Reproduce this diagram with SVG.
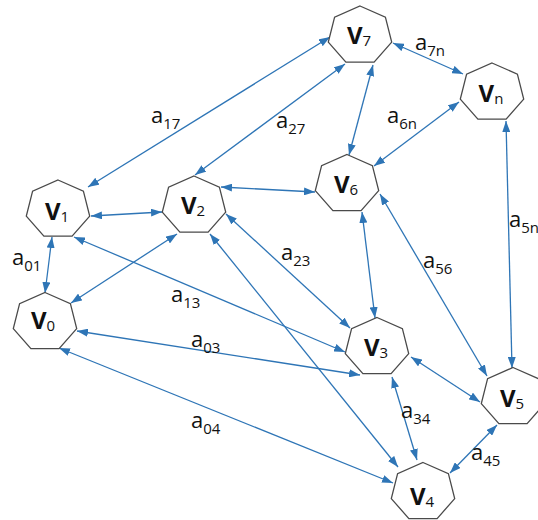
<svg xmlns="http://www.w3.org/2000/svg" xmlns:xlink="http://www.w3.org/1999/xlink" width="538" height="520" viewBox="0 0 538 520">
<style>
.hept{fill:#ffffff;stroke:#4a4a4a;stroke-width:1.3}
.edge line{stroke:#2E75B6;stroke-width:1.3;fill:none;marker-start:url(#ah);marker-end:url(#ah)}
.nl{font-family:"Open Sans","Liberation Sans",sans-serif;font-weight:bold;font-size:24px;fill:#111;text-anchor:middle}
.ns{font-size:15px;font-weight:normal}
.el{font-family:"Open Sans","Liberation Sans",sans-serif;font-size:22px;fill:#111}
.es{font-size:15px}
</style>
<defs>
<marker id="ah" markerUnits="userSpaceOnUse" markerWidth="11" markerHeight="8" refX="11" refY="4" orient="auto-start-reverse" viewBox="0 0 11 8">
<path d="M0,0 L11,4 L0,8 z" fill="#2E75B6"/>
</marker>
<polygon id="hp" class="hept" points="0,-29.5 25.4,-18.4 31.7,6.6 14.1,26.6 -14.1,26.6 -31.7,6.6 -25.4,-18.4"/>
</defs>
<rect width="538" height="520" fill="#ffffff"/>
<g id="connectors" class="edge">
<line x1="88" y1="187" x2="330" y2="37"/>
<line x1="195" y1="175" x2="345" y2="64"/>
<line x1="373" y1="65" x2="349" y2="155"/>
<line x1="393" y1="43" x2="463" y2="74"/>
<line x1="459" y1="102" x2="374" y2="166"/>
<line x1="506" y1="121" x2="512" y2="368"/>
<line x1="91" y1="216" x2="162" y2="212"/>
<line x1="221" y1="187" x2="315" y2="192"/>
<line x1="52" y1="237" x2="45" y2="293"/>
<line x1="177" y1="234" x2="71" y2="303"/>
<line x1="74" y1="237" x2="345" y2="352"/>
<line x1="77" y1="331" x2="360" y2="375"/>
<line x1="226" y1="214" x2="350" y2="328"/>
<line x1="210" y1="234" x2="398" y2="467"/>
<line x1="59" y1="348" x2="393" y2="483"/>
<line x1="362" y1="212" x2="375" y2="318"/>
<line x1="380" y1="194" x2="487" y2="376"/>
<line x1="411" y1="357" x2="480" y2="402"/>
<line x1="392" y1="377" x2="417" y2="460"/>
<line x1="450" y1="473" x2="497" y2="425"/>
</g>
<g id="edge-labels" class="el">
<text x="151" y="123">a<tspan class="es" dy="6">17</tspan></text>
<text x="276" y="128">a<tspan class="es" dy="6">27</tspan></text>
<text x="415" y="50">a<tspan class="es" dy="6">7n</tspan></text>
<text x="387" y="123">a<tspan class="es" dy="6">6n</tspan></text>
<text x="509" y="227">a<tspan class="es" dy="6">5n</tspan></text>
<text x="12" y="265">a<tspan class="es" dy="6">01</tspan></text>
<text x="171" y="302">a<tspan class="es" dy="6">13</tspan></text>
<text x="281" y="260">a<tspan class="es" dy="6">23</tspan></text>
<text x="423" y="268">a<tspan class="es" dy="6">56</tspan></text>
<text x="191" y="347">a<tspan class="es" dy="6">03</tspan></text>
<text x="191" y="428">a<tspan class="es" dy="6">04</tspan></text>
<text x="401" y="418">a<tspan class="es" dy="6">34</tspan></text>
<text x="471" y="460">a<tspan class="es" dy="6">45</tspan></text>
</g>
<g id="v7"><use xlink:href="#hp" x="360" y="35.5"/><text class="nl" x="359" y="44">V<tspan class="ns" dy="2">7</tspan></text></g>
<g id="vn"><use xlink:href="#hp" x="492" y="92.5"/><text class="nl" x="491" y="102">V<tspan class="ns" dy="2">n</tspan></text></g>
<g id="v1"><use xlink:href="#hp" x="58" y="209.5"/><text class="nl" x="57" y="220">V<tspan class="ns" dy="2">1</tspan></text></g>
<g id="v2"><use xlink:href="#hp" x="194" y="205.5"/><text class="nl" x="193" y="214">V<tspan class="ns" dy="2">2</tspan></text></g>
<g id="v6"><use xlink:href="#hp" x="347" y="184"/><text class="nl" x="346" y="193">V<tspan class="ns" dy="2">6</tspan></text></g>
<g id="v0"><use xlink:href="#hp" x="45" y="322"/><text class="nl" x="43" y="329">V<tspan class="ns" dy="2">0</tspan></text></g>
<g id="v3"><use xlink:href="#hp" x="377" y="347"/><text class="nl" x="376" y="356">V<tspan class="ns" dy="2">3</tspan></text></g>
<g id="v5"><use xlink:href="#hp" x="513" y="397"/><text class="nl" x="512" y="407">V<tspan class="ns" dy="2">5</tspan></text></g>
<g id="v4"><use xlink:href="#hp" x="423" y="492"/><text class="nl" x="422" y="505">V<tspan class="ns" dy="2">4</tspan></text></g>
</svg>
